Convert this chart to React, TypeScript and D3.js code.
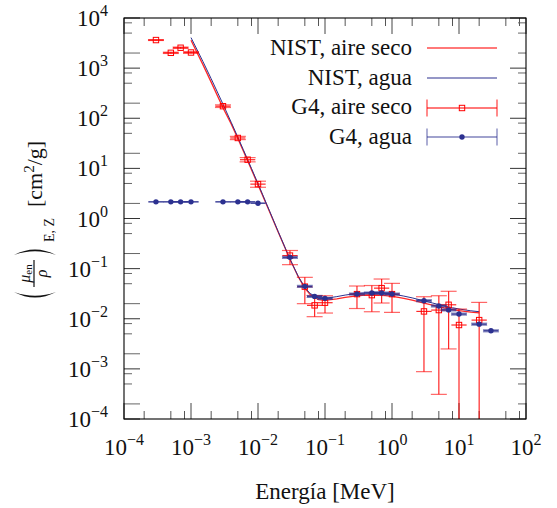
import React from 'react';
import * as d3 from 'd3';

// NIST mass energy-absorption coefficients (cm^2/g)
const nistEnergy = [1e-3, 1.5e-3, 2e-3, 3e-3, 4e-3, 5e-3, 6e-3, 8e-3, 1e-2, 1.5e-2, 2e-2, 3e-2, 4e-2, 5e-2, 6e-2, 8e-2, 0.1, 0.15, 0.2, 0.3, 0.4, 0.5, 0.6, 0.8, 1, 1.25, 1.5, 2, 3, 4, 5, 6, 8, 10, 15, 20];
const nistAir = [3599, 1188, 526.2, 161.4, 76.36, 39.31, 22.7, 9.446, 4.742, 1.334, 0.5389, 0.1537, 0.06833, 0.04098, 0.03041, 0.02407, 0.02325, 0.02496, 0.02672, 0.02872, 0.02949, 0.02966, 0.02953, 0.02882, 0.02789, 0.02666, 0.02547, 0.02345, 0.02057, 0.0187, 0.0174, 0.01647, 0.01525, 0.0145, 0.01353, 0.01311];
const nistWater = [4065, 1372, 615.2, 191.7, 81.91, 41.88, 24.05, 9.915, 4.944, 1.374, 0.5503, 0.1557, 0.06947, 0.04223, 0.0319, 0.02597, 0.02546, 0.02764, 0.02967, 0.03192, 0.03279, 0.03299, 0.03284, 0.03206, 0.03103, 0.02965, 0.02833, 0.02608, 0.02281, 0.02066, 0.01915, 0.01806, 0.01658, 0.01566, 0.01441, 0.01382];

// Geant4 results, dry air
const g4AirEnergy = [3e-4, 5e-4, 7e-4, 1e-3, 3e-3, 5e-3, 7e-3, 1e-2, 3e-2, 5e-2, 7e-2, 0.1, 0.3, 0.5, 0.7, 1, 3, 5, 7, 10, 20];
const g4AirValue = [3630, 2020, 2550, 2050, 174, 40.4, 14.9, 4.85, 0.182, 0.0437, 0.0185, 0.0209, 0.031, 0.0296, 0.0408, 0.031, 0.014, 0.0149, 0.019, 0.0075, 0.0094];
const g4AirLow = [3560, 1960, 2470, 1970, 164, 37.5, 13.5, 4.2, 0.12, 0.02, 0.011, 0.013, 0.016, 0.0138, 0.0206, 0.0134, 0.00088, 0.00031, 0.0025, -0.001, -0.001];
const g4AirHigh = [3700, 2080, 2630, 2130, 185, 43.5, 16.4, 5.55, 0.23, 0.067, 0.0288, 0.0288, 0.045, 0.046, 0.062, 0.0508, 0.0275, 0.0288, 0.0353, 0.0156, 0.0212];

// Geant4 results, water
const g4WaterEnergy = [3e-4, 5e-4, 7e-4, 1e-3, 3e-3, 5e-3, 7e-3, 1e-2, 3e-2, 5e-2, 7e-2, 0.1, 0.3, 0.5, 0.7, 1, 3, 5, 7, 10, 20, 30];
const g4WaterValue = [2.15, 2.15, 2.15, 2.15, 2.15, 2.15, 2.15, 2.02, 0.168, 0.0443, 0.0279, 0.0255, 0.0311, 0.0326, 0.0326, 0.0311, 0.0229, 0.018, 0.015, 0.0124, 0.0078, 0.00575];
const g4WaterRelErr = [0, 0, 0, 0, 0, 0, 0, 0, 0.05, 0.05, 0.05, 0.05, 0.05, 0.05, 0.05, 0.05, 0.05, 0.05, 0.05, 0.05, 0.05, 0.05];

// Half-width of the energy bins, as a multiplicative factor
const binFactor = 1.3;

const xExponents = [-4, -3, -2, -1, 0, 1, 2];
const yExponents = [-4, -3, -2, -1, 0, 1, 2, 3, 4];
const minorMultipliers = [2, 5, 8];

const legendLabels = ['NIST, aire seco', 'NIST, agua', 'G4, aire seco', 'G4, agua'];

const RED = '#ff0000';
const BLUE = '#2c3190';
const FONT = "'Liberation Serif', 'DejaVu Serif', serif";
const TEXT: React.CSSProperties = { fontFamily: FONT };

const W = 557;
const H = 508;
const left = 124, right = 526, top = 18, bottom = 419;

const sup = (n: number) => (n < 0 ? '\u2212' + Math.abs(n) : String(n));

export default function App() {
  const x = d3.scaleLog().domain([1e-4, 1e2]).range([left, right]);
  const y = d3.scaleLog().domain([1e-4, 1e4]).range([bottom, top]);
  const yc = (v: number) => (v <= 0 ? bottom : Math.min(bottom, Math.max(top, y(v))));

  const line = d3
    .line<number>()
    .x((_, i) => x(nistEnergy[i]))
    .y((d) => y(d));

  const capW = 8;

  const ticks: React.ReactNode[] = [];
  // x ticks (bottom and top)
  for (let e = -4; e <= 2; e++) {
    const mults = e < 2 ? [1, ...minorMultipliers] : [1];
    mults.forEach((m) => {
      const v = m * Math.pow(10, e);
      const px = x(v);
      const len = m === 1 ? 16 : 8;
      const col = m === 1 ? '#444' : '#555';
      ticks.push(<line key={`bx${e}${m}`} x1={px} x2={px} y1={bottom} y2={bottom - len} stroke={col} strokeWidth={1} />);
      ticks.push(<line key={`tx${e}${m}`} x1={px} x2={px} y1={top} y2={top + len} stroke={col} strokeWidth={1} />);
    });
  }
  // y ticks (left and right)
  for (let e = -4; e <= 4; e++) {
    const mults = e < 4 ? [1, ...minorMultipliers] : [1];
    mults.forEach((m) => {
      const v = m * Math.pow(10, e);
      const py = y(v);
      const lenL = m === 1 || m === 2 ? 16 : 8;
      const lenR = m === 1 ? 16 : 8;
      const col = m === 1 ? '#333' : '#666';
      ticks.push(<line key={`ly${e}${m}`} x1={left} x2={left + lenL} y1={py} y2={py} stroke={col} strokeWidth={1} />);
      ticks.push(<line key={`ry${e}${m}`} x1={right} x2={right - lenR} y1={py} y2={py} stroke={col} strokeWidth={1} />);
    });
  }

  return (
    <div style={{ position: 'absolute', left: 0, top: 0 }}>
      <svg width={W} height={H} style={{ display: 'block', background: '#fff', fontFamily: FONT }}>
        <rect x={0} y={0} width={W} height={H} fill="#fff" />
        <defs>
          <clipPath id="plotArea">
            <rect x={left} y={top} width={right - left} height={bottom - top} />
          </clipPath>
        </defs>

        {ticks}

        <g clipPath="url(#plotArea)">
          {/* NIST reference curves */}
          <path d={line(nistAir) || ''} fill="none" stroke={RED} strokeWidth={1.3} strokeOpacity={0.85} />
          <path d={line(nistWater) || ''} fill="none" stroke={BLUE} strokeWidth={1} />

          {/* Geant4, dry air */}
          {g4AirEnergy.map((e, i) => {
            const px = x(e);
            const py = y(g4AirValue[i]);
            const yl = yc(g4AirLow[i]);
            const yh = yc(g4AirHigh[i]);
            return (
              <g key={`ga${i}`} stroke={RED} fill="none">
                <line x1={x(e / binFactor)} x2={x(e * binFactor)} y1={py} y2={py} strokeWidth={1.2} strokeOpacity={0.85} />
                <line x1={px} x2={px} y1={yl} y2={yh} strokeWidth={1.2} strokeOpacity={0.85} />
                <line x1={px - capW} x2={px + capW} y1={yh} y2={yh} strokeWidth={1.2} strokeOpacity={0.6} />
                {g4AirLow[i] > 0 && <line x1={px - capW} x2={px + capW} y1={yl} y2={yl} strokeWidth={1.2} strokeOpacity={0.6} />}
                <rect x={px - 2.7} y={py - 2.7} width={5.4} height={5.4} strokeWidth={1} />
              </g>
            );
          })}

          {/* Geant4, water */}
          {g4WaterEnergy.map((e, i) => {
            const px = x(e);
            const v = g4WaterValue[i];
            const py = y(v);
            const r = g4WaterRelErr[i];
            return (
              <g key={`gw${i}`} stroke={BLUE}>
                <line x1={x(e / binFactor)} x2={x(e * binFactor)} y1={py} y2={py} strokeWidth={1.5} strokeOpacity={0.9} />
                {r > 0 && (
                  <>
                    <line x1={px - capW} x2={px + capW} y1={y(v * (1 + r))} y2={y(v * (1 + r))} strokeWidth={1} strokeOpacity={0.6} />
                    <line x1={px - capW} x2={px + capW} y1={y(v * (1 - r))} y2={y(v * (1 - r))} strokeWidth={1} strokeOpacity={0.6} />
                  </>
                )}
                <circle cx={px} cy={py} r={2.7} fill={BLUE} stroke="none" />
              </g>
            );
          })}
        </g>

        <rect x={left} y={top} width={right - left} height={bottom - top} fill="none" stroke="#000" strokeWidth={1.1} />

        {/* tick labels */}
        {xExponents.map((e) => (
          <text key={`xl${e}`} style={TEXT} x={x(Math.pow(10, e))} y={455} textAnchor="middle" fontSize={23} fill="#111">
            10<tspan dy={-10} fontSize={16}>{sup(e)}</tspan>
          </text>
        ))}
        {yExponents.map((e) => (
          <text key={`yl${e}`} style={TEXT} x={108} y={y(Math.pow(10, e)) + 8} textAnchor="end" fontSize={23} fill="#111">
            10<tspan dy={-10} fontSize={16}>{sup(e)}</tspan>
          </text>
        ))}

        {/* axis titles */}
        <text style={TEXT} x={325} y={499} textAnchor="middle" fontSize={23} fill="#111">Energía [MeV]</text>

        <g transform="translate(35,300) rotate(-90)" fill="#111">
          <path d="M8,-21 Q-3,0 8,21 Q0.5,0 8,-21 Z" />
          <path d="M45,-21 Q56,0 45,21 Q52.5,0 45,-21 Z" />
          <line x1={13} x2={40} y1={-1} y2={-1} stroke="#111" strokeWidth={1.2} />
          <text style={TEXT} x={26.5} y={-5} textAnchor="middle" fontSize={16}>
            <tspan fontStyle="italic">μ</tspan>
            <tspan fontSize={11} dy={2}>en</tspan>
          </text>
          <text style={TEXT} x={26.5} y={12} textAnchor="middle" fontSize={16} fontStyle="italic">ρ</text>
          <text style={TEXT} x={58} y={19} fontSize={14}>E, Z</text>
          <text style={TEXT} x={93} y={7} fontSize={22}>
            [cm<tspan dy={-8} fontSize={15}>2</tspan><tspan dy={8}>/g]</tspan>
          </text>
        </g>

        {/* legend */}
        {legendLabels.map((t, i) => (
          <text key={`lg${i}`} style={TEXT} x={412} y={55 + i * 29.7} textAnchor="end" fontSize={23} fill="#111">{t}</text>
        ))}
        <line x1={427} x2={497} y1={48} y2={48} stroke={RED} strokeWidth={1.5} strokeOpacity={0.7} />
        <line x1={427} x2={497} y1={78} y2={78} stroke={BLUE} strokeWidth={1.1} />
        <g stroke={RED} strokeOpacity={0.7} strokeWidth={1.3}>
          <line x1={427} x2={497} y1={108} y2={108} />
          <line x1={427} x2={427} y1={99.5} y2={116.5} />
          <line x1={497} x2={497} y1={99.5} y2={116.5} />
        </g>
        <rect x={459.3} y={105.3} width={5.4} height={5.4} fill="none" stroke={RED} strokeWidth={1} />
        <g stroke={BLUE} strokeOpacity={0.6} strokeWidth={1.3}>
          <line x1={427} x2={497} y1={137} y2={137} />
          <line x1={427} x2={427} y1={128.5} y2={145.5} />
          <line x1={497} x2={497} y1={128.5} y2={145.5} />
        </g>
        <circle cx={462} cy={137} r={2.7} fill={BLUE} />
      </svg>
    </div>
  );
}
